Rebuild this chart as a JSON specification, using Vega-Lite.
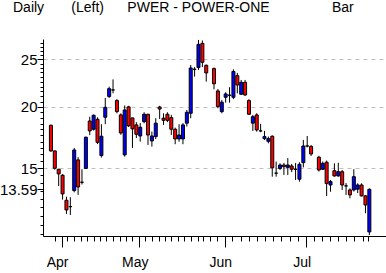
{
  "$schema": "https://vega.github.io/schema/vega-lite/v6.json",
  "width": 343,
  "height": 197,
  "autosize": {"type": "none"},
  "padding": {"left": 43, "top": 39, "right": 0, "bottom": 37},
  "background": "white",
  "title": {
    "text": "Daily\u00a0\u00a0\u00a0\u00a0\u00a0\u00a0\u00a0(Left)\u00a0\u00a0\u00a0\u00a0\u00a0\u00a0PWER - POWER-ONE\u00a0\u00a0\u00a0\u00a0\u00a0\u00a0\u00a0\u00a0\u00a0\u00a0\u00a0\u00a0\u00a0\u00a0\u00a0\u00a0Bar",
    "anchor": "start",
    "frame": "group",
    "dx": -30,
    "offset": 10,
    "baseline": "alphabetic",
    "font": "Liberation Sans",
    "fontSize": 14,
    "fontWeight": "normal",
    "color": "black"
  },
  "config": {"view": {"stroke": null}},
  "data": {
    "values": [
      {"i": 0, "o": 18.35, "h": 18.4, "l": 16.2, "c": 16.27},
      {"i": 1, "o": 16.27, "h": 16.3, "l": 14.9, "c": 15.0},
      {"i": 2, "o": 14.93, "h": 14.95, "l": 13.8, "c": 14.61},
      {"i": 3, "o": 14.52, "h": 14.6, "l": 12.95, "c": 13.3},
      {"i": 4, "o": 12.91, "h": 13.13, "l": 12.11, "c": 12.34},
      {"i": 5, "o": 12.53, "h": 13.1, "l": 12.05, "c": 12.53},
      {"i": 6, "o": 13.51, "h": 16.5, "l": 13.4, "c": 16.34},
      {"i": 7, "o": 15.6, "h": 15.8, "l": 13.24, "c": 13.74},
      {"i": 8, "o": 14.05, "h": 14.93, "l": 13.9, "c": 14.05},
      {"i": 9, "o": 14.99, "h": 17.4, "l": 14.95, "c": 17.35},
      {"i": 10, "o": 18.72, "h": 19.1, "l": 17.53, "c": 17.87},
      {"i": 11, "o": 18.01, "h": 19.3, "l": 17.9, "c": 19.23},
      {"i": 12, "o": 18.87, "h": 19.05, "l": 16.8, "c": 16.94},
      {"i": 13, "o": 15.92, "h": 18.44, "l": 15.77, "c": 17.43},
      {"i": 14, "o": 19.05, "h": 20.85, "l": 18.44, "c": 19.96},
      {"i": 15, "o": 21.0, "h": 21.99, "l": 20.85, "c": 21.78},
      {"i": 16, "o": 21.65, "h": 22.75, "l": 21.31, "c": 21.65},
      {"i": 17, "o": 20.6, "h": 20.75, "l": 19.4, "c": 19.56},
      {"i": 18, "o": 19.26, "h": 19.4, "l": 17.55, "c": 17.7},
      {"i": 19, "o": 15.97, "h": 20.13, "l": 15.84, "c": 19.71},
      {"i": 20, "o": 20.0, "h": 20.1, "l": 18.2, "c": 18.3},
      {"i": 21, "o": 18.99, "h": 19.0, "l": 16.5, "c": 18.04},
      {"i": 22, "o": 18.38, "h": 18.62, "l": 17.28, "c": 17.59},
      {"i": 23, "o": 17.45, "h": 18.54, "l": 16.99, "c": 18.18},
      {"i": 24, "o": 18.66, "h": 19.5, "l": 18.52, "c": 19.32},
      {"i": 25, "o": 19.32, "h": 19.35, "l": 16.73, "c": 17.53},
      {"i": 26, "o": 17.05, "h": 17.81, "l": 16.6, "c": 17.45},
      {"i": 27, "o": 17.4, "h": 18.97, "l": 17.2, "c": 18.53},
      {"i": 28, "o": 19.99, "h": 20.1, "l": 18.9, "c": 19.8},
      {"i": 29, "o": 18.97, "h": 19.4, "l": 18.38, "c": 18.78},
      {"i": 30, "o": 19.32, "h": 19.5, "l": 18.62, "c": 18.78},
      {"i": 31, "o": 19.02, "h": 19.26, "l": 17.53, "c": 18.01},
      {"i": 32, "o": 18.01, "h": 18.15, "l": 16.79, "c": 17.21},
      {"i": 33, "o": 17.21, "h": 18.44, "l": 16.99, "c": 17.53},
      {"i": 34, "o": 17.21, "h": 18.53, "l": 16.79, "c": 18.38},
      {"i": 35, "o": 18.53, "h": 19.71, "l": 18.24, "c": 19.5},
      {"i": 36, "o": 19.41, "h": 24.34, "l": 18.97, "c": 24.0},
      {"i": 37, "o": 23.85, "h": 24.1, "l": 23.05, "c": 23.85},
      {"i": 38, "o": 24.06, "h": 27.37, "l": 23.78, "c": 26.81},
      {"i": 39, "o": 26.93, "h": 27.3, "l": 24.1, "c": 24.65},
      {"i": 40, "o": 24.3, "h": 24.4, "l": 22.51, "c": 23.45},
      {"i": 42, "o": 23.93, "h": 24.06, "l": 21.72, "c": 22.29},
      {"i": 43, "o": 21.55, "h": 21.75, "l": 19.87, "c": 20.02},
      {"i": 44, "o": 19.56, "h": 20.66, "l": 19.41, "c": 20.44},
      {"i": 45, "o": 20.92, "h": 21.42, "l": 20.4, "c": 21.25},
      {"i": 46, "o": 21.12, "h": 21.93, "l": 20.4, "c": 21.12},
      {"i": 47, "o": 20.92, "h": 23.85, "l": 20.74, "c": 23.61},
      {"i": 48, "o": 23.15, "h": 23.45, "l": 21.31, "c": 22.16},
      {"i": 49, "o": 21.22, "h": 22.69, "l": 21.15, "c": 22.44},
      {"i": 50, "o": 22.44, "h": 22.69, "l": 21.05, "c": 21.15},
      {"i": 51, "o": 20.6, "h": 20.74, "l": 19.26, "c": 19.32},
      {"i": 52, "o": 18.53, "h": 19.26, "l": 17.87, "c": 19.1},
      {"i": 53, "o": 19.26, "h": 19.41, "l": 17.81, "c": 17.95},
      {"i": 54, "o": 17.87, "h": 18.47, "l": 17.76, "c": 17.87},
      {"i": 55, "o": 17.23, "h": 17.87, "l": 17.13, "c": 17.4},
      {"i": 56, "o": 17.02, "h": 17.4, "l": 16.86, "c": 17.23},
      {"i": 57, "o": 17.43, "h": 17.5, "l": 14.42, "c": 15.03},
      {"i": 58, "o": 14.66, "h": 15.48, "l": 14.42, "c": 14.66},
      {"i": 59, "o": 14.99, "h": 15.35, "l": 14.88, "c": 15.23},
      {"i": 60, "o": 15.23, "h": 15.38, "l": 14.54, "c": 15.11},
      {"i": 61, "o": 15.06, "h": 15.73, "l": 14.54, "c": 15.23},
      {"i": 62, "o": 15.16, "h": 15.3, "l": 14.74, "c": 14.93},
      {"i": 63, "o": 14.93, "h": 15.37, "l": 14.2, "c": 14.93},
      {"i": 64, "o": 14.25, "h": 15.43, "l": 14.09, "c": 15.28},
      {"i": 65, "o": 15.4, "h": 17.13, "l": 15.06, "c": 16.65},
      {"i": 66, "o": 16.65, "h": 17.45, "l": 16.55, "c": 16.65},
      {"i": 67, "o": 16.62, "h": 16.73, "l": 15.89, "c": 16.04},
      {"i": 69, "o": 15.8, "h": 15.9, "l": 14.77, "c": 14.88},
      {"i": 70, "o": 14.93, "h": 15.48, "l": 14.88, "c": 15.35},
      {"i": 71, "o": 15.43, "h": 15.55, "l": 13.17, "c": 13.96},
      {"i": 72, "o": 13.87, "h": 14.2, "l": 13.44, "c": 14.09},
      {"i": 73, "o": 14.83, "h": 15.35, "l": 14.42, "c": 14.47},
      {"i": 74, "o": 14.47, "h": 15.39, "l": 14.42, "c": 14.76},
      {"i": 75, "o": 14.76, "h": 14.88, "l": 13.55, "c": 13.87},
      {"i": 76, "o": 13.81, "h": 13.99, "l": 13.24, "c": 13.81},
      {"i": 77, "o": 13.55, "h": 13.65, "l": 13.03, "c": 13.24},
      {"i": 78, "o": 13.55, "h": 14.93, "l": 13.45, "c": 14.42},
      {"i": 79, "o": 13.6, "h": 13.98, "l": 13.35, "c": 13.87},
      {"i": 80, "o": 13.87, "h": 13.98, "l": 13.14, "c": 13.18},
      {"i": 81, "o": 13.18, "h": 13.24, "l": 12.15, "c": 12.63},
      {"i": 82, "o": 11.13, "h": 13.65, "l": 10.97, "c": 13.59}
    ]
  },
  "encoding": {
    "x": {
      "field": "i",
      "type": "quantitative",
      "scale": {"domain": [-0.75, 85], "nice": false, "zero": false},
      "axis": {
        "title": null,
        "grid": false,
        "values": [1, 2.75, 4.25, 6, 7.75, 9.25, 11, 12.75, 14.25, 16, 17.75, 19.25, 21, 22.75, 24.25, 26, 27.75, 29.25, 31, 32.75, 34.25, 36, 37.75, 39.25, 41, 42.75, 44.75, 46.75, 49, 51, 53, 55.25, 57.25, 59.25, 61.5, 63.5, 65.75, 67.75, 69.75, 71.75, 74, 76, 78, 80.25, 81.75],
        "labelExpr": "datum.value == 2.75 ? 'Apr' : datum.value == 22.75 ? 'May' : datum.value == 44.75 ? 'Jun' : datum.value == 65.75 ? 'Jul' : ''",
        "tickSize": {"condition": {"test": "datum.value == 2.75 || datum.value == 22.75 || datum.value == 44.75 || datum.value == 65.75", "value": 11}, "value": 5},
        "domainColor": "black",
        "tickColor": "black",
        "labelColor": "black",
        "labelFont": "Liberation Sans",
        "labelFontSize": 14,
        "labelPadding": 8,
        "labelOffset": -4.5,
        "labelOverlap": false,
        "labelFlush": false,
        "labelBound": false
      }
    }
  },
  "layer": [
    {
      "mark": {"type": "rule", "color": "black", "strokeWidth": 1},
      "encoding": {
        "y": {
          "field": "l",
          "type": "quantitative",
          "scale": {"type": "log", "domain": [10.92, 27.49], "nice": false, "zero": false},
          "axis": {
            "title": null,
            "values": [11, 11.5, 12, 12.5, 13, 13.5, 13.59, 14, 14.5, 15, 15.5, 16, 16.5, 17, 17.5, 18, 18.5, 19, 19.5, 20, 20.5, 21, 21.5, 22, 22.5, 23, 23.5, 24, 24.5, 25, 25.5, 26, 26.5, 27],
            "labelExpr": "datum.value == 15 ? '15' : datum.value == 20 ? '20' : datum.value == 25 ? '25' : datum.value == 13.59 ? '13.59' : ''",
            "tickSize": {"condition": {"test": "datum.value == 15 || datum.value == 20 || datum.value == 25 || datum.value == 13.59", "value": 6}, "value": 3},
            "grid": true,
            "gridColor": {"condition": {"test": "datum.value == 15 || datum.value == 20 || datum.value == 25", "value": "#c0c0c0"}, "value": "transparent"},
            "gridDash": [4, 4],
            "domainColor": "black",
            "tickColor": "black",
            "labelColor": "black",
            "labelFont": "Liberation Sans Narrow, Liberation Sans, sans-serif",
            "labelFontSize": 15,
            "labelPadding": 0,
            "labelOverlap": false,
            "labelFlush": false,
            "labelBound": false
          }
        },
        "y2": {"field": "h"}
      }
    },
    {
      "mark": {"type": "bar", "size": 3, "stroke": "black", "strokeWidth": 1},
      "encoding": {
        "y": {"field": "o", "type": "quantitative"},
        "y2": {"field": "c"},
        "fill": {
          "condition": [
            {"test": "datum.o == datum.c", "value": "black"},
            {"test": "datum.c > datum.o", "value": "#0000ff"}
          ],
          "value": "#ff0000"
        }
      }
    }
  ]
}
